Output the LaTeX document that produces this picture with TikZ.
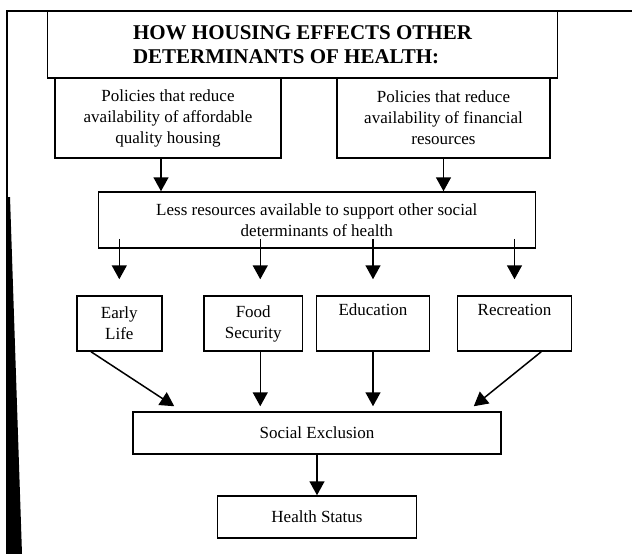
\documentclass[tikz,border=0pt]{standalone}
\usepackage{fontspec}
\setmainfont{Liberation Serif}
\usetikzlibrary{arrows.meta,positioning}
\tikzset{
	cabecera/.style={rectangle, draw, line width=1.5pt, inner sep=0pt,
		font=\bfseries\fontsize{21}{24.5}\selectfont, align=left,
		minimum width=510pt, minimum height=67pt},
	politica/.style={rectangle, draw, line width=1.5pt, inner sep=0pt,
		font=\fontsize{17}{21}\selectfont, align=center,
		minimum height=80pt},
	recursos/.style={rectangle, draw, line width=1.5pt, inner sep=0pt,
		font=\fontsize{17}{21}\selectfont, align=center,
		minimum width=437pt, minimum height=56pt},
	factor/.style={rectangle, draw, line width=1.5pt, inner sep=0pt,
		font=\fontsize{17}{21}\selectfont, align=center,
		minimum height=55pt},
	salida/.style={rectangle, draw, line width=1.5pt, inner sep=0pt,
		font=\fontsize{17}{21}\selectfont, minimum height=42pt},
	flecha/.style={line width=1.5pt, -{Triangle[length=14pt,width=15pt]}}
}

\begin{document}
\begin{tikzpicture}[x=1pt,y=-1pt]
			\useasboundingbox (0,0) rectangle (632,554);
			\draw[line width=1.5pt] (632,11) -- (7,11) -- (7,554);
			\fill (6,197) -- (10,197) -- (22,554) -- (6,554) -- cycle;
			
			\node[cabecera] (titulo) at (302.5,44.5) {HOW HOUSING EFFECTS OTHER\\DETERMINANTS OF HEALTH:};
			
			\node[politica, minimum width=226pt] (vivienda) at (168,118) {Policies that reduce\\availability of affordable\\quality housing};
			\node[politica, minimum width=213pt] (finanzas) at (443.5,118) {Policies that reduce\\availability of financial\\resources};
			
			\node[recursos] (menos) at (316.75,220) {Less resources available to support other social\\determinants of health};
			
			\node[factor, minimum width=85pt] (infancia) at (119.3,323.5) {Early\\Life};
			\node[factor, minimum width=98.5pt] (comida) at (253.25,323.5) {Food\\Security};
			\node[factor, minimum width=113pt] (educacion) at (373,323.5) {Education\\\strut};
			\node[factor, minimum width=114pt] (recreo) at (514.5,323.5) {Recreation\\\strut};
			
			\node[salida, minimum width=368pt] (exclusion) at (317,433) {Social Exclusion};
			\node[salida, minimum width=199pt] (salud) at (317,517) {Health Status};
			
			\draw[flecha] ([xshift=-7pt]vivienda.south) -- ([xshift=-7pt]vivienda.south |- menos.north);
			\draw[flecha] (finanzas.south) -- (finanzas.south |- menos.north);
			
			\draw[flecha] ([yshift=10pt]menos.south -| infancia.north) -- ([yshift=16pt]infancia.north);
			\draw[flecha] ([xshift=7pt,yshift=10pt]menos.south -| comida.north) -- ([xshift=7pt,yshift=16pt]comida.north);
			\draw[flecha] ([yshift=10pt]menos.south -| educacion.north) -- ([yshift=16pt]educacion.north);
			\draw[flecha] ([yshift=10pt]menos.south -| recreo.north) -- ([yshift=16pt]recreo.north);
			
			\draw[flecha] ([xshift=15pt]infancia.south west) -- ([xshift=42pt,yshift=5pt]exclusion.north west);
			\draw[flecha] ([xshift=7pt]comida.south) -- ([xshift=7pt,yshift=5pt]comida.south |- exclusion.north);
			\draw[flecha] (educacion.south) -- ([yshift=5pt]educacion.south |- exclusion.north);
			\draw[flecha] ([xshift=-31pt]recreo.south east) -- ([xshift=-28pt,yshift=5pt]exclusion.north east);
			
			\draw[flecha] (exclusion.south) -- (salud.north);
		\end{tikzpicture}
\end{document}
